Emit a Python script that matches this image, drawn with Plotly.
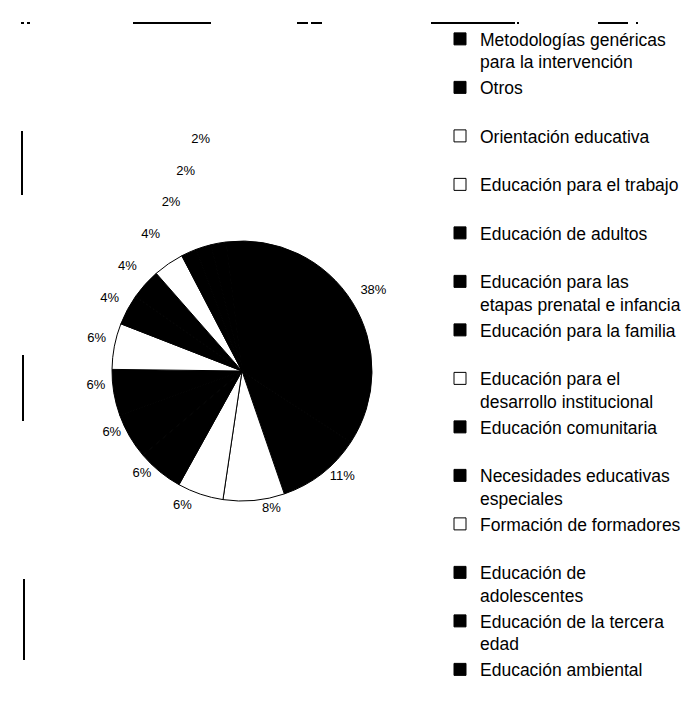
import plotly.graph_objects as go

categories = [
    "Metodologías genéricas<br>para la intervención",
    "Otros",
    "Orientación educativa",
    "Educación para el trabajo",
    "Educación de adultos",
    "Educación para las<br>etapas prenatal e infancia",
    "Educación para la familia",
    "Educación para el<br>desarrollo institucional",
    "Educación comunitaria",
    "Necesidades educativas<br>especiales",
    "Formación de formadores",
    "Educación de<br>adolescentes",
    "Educación de la tercera<br>edad",
    "Educación ambiental",
]
values = [38, 11, 8, 6, 6, 6, 6, 6, 4, 4, 4, 2, 2, 2]
pct_labels = ["38%", "11%", "8%", "6%", "6%", "6%", "6%", "6%", "4%", "4%", "4%", "2%", "2%", "2%"]
fills = ["#000000", "#000000", "#ffffff", "#ffffff", "#000000", "#000000", "#000000",
         "#ffffff", "#000000", "#000000", "#ffffff", "#000000", "#000000", "#000000"]

# every legend entry takes two lines, as in the original
legend_names = [c if "<br>" in c else c + "<br> " for c in categories]
# labels get a blank second line so the outside labels are spread further apart
slice_text = [t + "<br> " for t in pct_labels]

fig = go.Figure(go.Pie(
    labels=legend_names,
    values=values,
    text=slice_text,
    textinfo="text",
    textposition="outside",
    textfont=dict(size=13, color="#000000", family="Liberation Sans"),
    marker=dict(colors=fills, line=dict(color="#000000", width=1)),
    sort=False,
    direction="clockwise",
    rotation=-7,
    domain=dict(x=[103 / 689, 365 / 689], y=[1 - 493 / 704, 1 - 233 / 704]),
    hoverinfo="label+percent",
))

shapes = []
# scan remnants of the surrounding table borders
top_segments = [(13, 16), (19, 22), (125, 203), (289, 300), (303, 314), (423, 507), (509, 511),
                (590, 620), (628, 630), (686, 689)]
for x0, x1 in top_segments:
    shapes.append(dict(type="line", xref="paper", yref="paper", x0=x0 / 689, x1=x1 / 689,
                       y0=1 - 15 / 704, y1=1 - 15 / 704, line=dict(color="#000000", width=2)))
for x, y0, y1 in [(14, 123, 187), (15, 347, 413), (16, 571, 652)]:
    shapes.append(dict(type="line", xref="paper", yref="paper", x0=x / 689, x1=x / 689,
                       y0=1 - y0 / 704, y1=1 - y1 / 704, line=dict(color="#000000", width=2)))

fig.update_layout(
    width=689, height=704,
    margin=dict(l=0, r=0, t=0, b=0),
    paper_bgcolor="#ffffff",
    plot_bgcolor="#ffffff",
    font=dict(family="Liberation Sans", color="#000000"),
    showlegend=True,
    legend=dict(
        x=432 / 689, y=1 - 13 / 704, xanchor="left", yanchor="top",
        font=dict(size=17.5, color="#000000", family="Liberation Sans"),
        valign="top", traceorder="normal",
        bgcolor="rgba(0,0,0,0)",
    ),
    shapes=shapes,
)

hide_lines = "var s=document.createElement('style');s.innerHTML='.textline{display:none}';document.head.appendChild(s);"
fig.write_html("out.html", post_script=hide_lines)
